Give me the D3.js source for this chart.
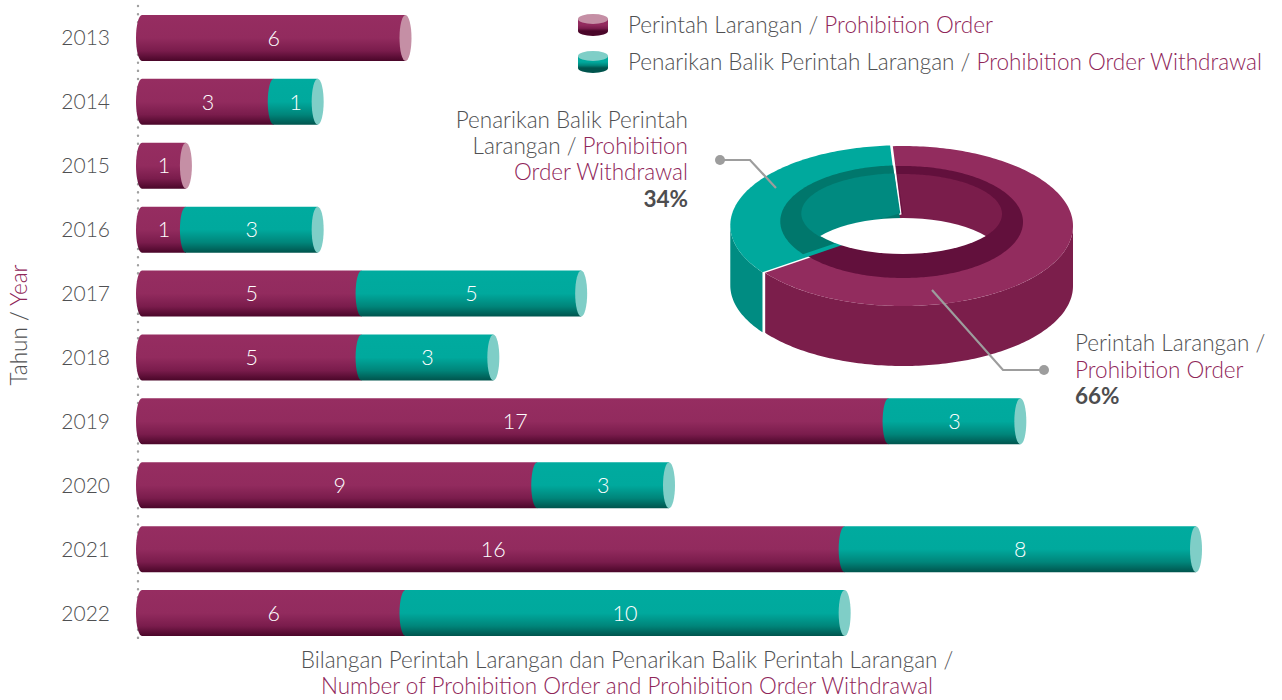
<!DOCTYPE html>
<html>
<head>
<meta charset="utf-8">
<script src="https://cdn.jsdelivr.net/npm/d3@7"></script>
<style>
  body { margin: 0; background: #fff; }
  svg { display: block; font-family: Lato, "Open Sans", sans-serif; font-weight: 300; }
</style>
</head>
<body>
<svg id="chart" width="1282" height="700"></svg>
<script>
// data
var years = ["2013", "2014", "2015", "2016", "2017", "2018", "2019", "2020", "2021", "2022"];
var prohibition = [6, 3, 1, 1, 5, 5, 17, 9, 16, 6];
var withdrawal = [0, 1, 0, 3, 5, 3, 3, 3, 8, 10];
var seriesKeys = ["prohibition", "withdrawal"];
var donutValues = [66, 34];
var donutShare = ["66%", "34%"];

var GRAY = "#4f5052";
var PURPLE_TXT = "#8f2659";
var FS = 22.5;

var svg = d3.select("#chart");
var defs = svg.append("defs");

var rows = years.map(function(y, i) {
    return { year: y, prohibition: prohibition[i], withdrawal: withdrawal[i] };
});

var x = d3.scaleLinear().domain([0, 24]).range([142, 1196]);
var y = d3.scaleBand().domain(years).range([-3, 654]).padding(0.28);
var bh = y.bandwidth();
var rx = 6;

var colors = {
    prohibition: { stops: ["#962d61", "#922b5e", "#7a1c4c", "#4a0629"], cap: "#c58fa5" },
    withdrawal: { stops: ["#00ab9f", "#00a99d", "#00857a", "#00544d"], cap: "#7fcec7" }
};

seriesKeys.forEach(function(k) {
    var g = defs.append("linearGradient").attr("id", "grad-" + k)
        .attr("x1", 0).attr("y1", 0).attr("x2", 0).attr("y2", 1);
    [0, 0.5, 0.78, 1].forEach(function(o, i) {
        g.append("stop").attr("offset", o).attr("stop-color", colors[k].stops[i]);
    });
});

// dotted axis line
svg.append("line")
    .attr("x1", 138).attr("x2", 138).attr("y1", 6).attr("y2", 642)
    .attr("stroke", "#a0a0a0").attr("stroke-width", 2.4)
    .attr("stroke-linecap", "round").attr("stroke-dasharray", "0.1 8");

var stack = d3.stack().keys(seriesKeys)(rows);

function segPath(x0, x1, top) {
    var bot = top + bh;
    return "M" + x0 + "," + top + "L" + x1 + "," + top + "L" + x1 + "," + bot +
        "L" + x0 + "," + bot + "A" + rx + "," + (bh / 2) + " 0 0 1 " + x0 + "," + top + "Z";
}

var gBars = svg.append("g");
stack.forEach(function(s) {
    s.forEach(function(d) {
        if (d[1] - d[0] <= 0) return;
        var yy = y(d.data.year);
        gBars.append("path")
            .attr("d", segPath(x(d[0]), x(d[1]), yy))
            .attr("fill", "url(#grad-" + s.key + ")");
    });
});

// end caps
rows.forEach(function(r) {
    var total = r.prohibition + r.withdrawal;
    var lastKey = r.withdrawal > 0 ? "withdrawal" : "prohibition";
    gBars.append("ellipse")
        .attr("cx", x(total)).attr("cy", y(r.year) + bh / 2)
        .attr("rx", rx).attr("ry", bh / 2)
        .attr("fill", colors[lastKey].cap);
});

// value labels
stack.forEach(function(s) {
    s.forEach(function(d) {
        var v = d[1] - d[0];
        if (v <= 0) return;
        gBars.append("text")
            .attr("x", (x(d[0]) + x(d[1])) / 2)
            .attr("y", y(d.data.year) + bh / 2)
            .attr("dy", "0.36em")
            .attr("text-anchor", "middle")
            .attr("fill", "#fff").attr("font-size", 21.5)
            .text(v);
    });
});

// year labels
svg.append("g").selectAll("text").data(years).join("text")
    .attr("x", 110).attr("y", function(d) { return y(d) + bh / 2; })
    .attr("dy", "0.36em").attr("text-anchor", "end")
    .attr("fill", GRAY).attr("font-size", 21)
    .text(function(d) { return d; });

// y title
var yt = svg.append("text")
    .attr("transform", "translate(27,325) rotate(-90)")
    .attr("text-anchor", "middle").attr("font-size", FS).attr("fill", GRAY);
yt.append("tspan").text("Tahun / ");
yt.append("tspan").attr("fill", PURPLE_TXT).text("Year");

// x title
svg.append("text").attr("x", 627).attr("y", 668).attr("text-anchor", "middle")
    .attr("font-size", FS).attr("fill", GRAY)
    .text("Bilangan Perintah Larangan dan Penarikan Balik Perintah Larangan /");
svg.append("text").attr("x", 627).attr("y", 694).attr("text-anchor", "middle")
    .attr("font-size", FS).attr("fill", PURPLE_TXT)
    .text("Number of Prohibition Order and Prohibition Order Withdrawal");

// legend
var legendItems = [
    { key: "prohibition", ms: "Perintah Larangan / ", en: "Prohibition Order" },
    { key: "withdrawal", ms: "Penarikan Balik Perintah Larangan / ", en: "Prohibition Order Withdrawal" }
];
legendItems.forEach(function(it, i) {
    var cy = 25 + i * 37;
    var g = svg.append("g");
    g.append("ellipse").attr("cx", 593).attr("cy", cy + 6).attr("rx", 15).attr("ry", 5)
        .attr("fill", colors[it.key].stops[3]);
    g.append("rect").attr("x", 578).attr("y", cy - 6).attr("width", 30).attr("height", 12)
        .attr("fill", "url(#grad-" + it.key + ")");
    g.append("ellipse").attr("cx", 593).attr("cy", cy - 6).attr("rx", 15).attr("ry", 5)
        .attr("fill", colors[it.key].cap);
    var t = g.append("text").attr("x", 628).attr("y", cy + 8)
        .attr("font-size", FS).attr("fill", GRAY);
    t.append("tspan").text(it.ms);
    t.append("tspan").attr("fill", PURPLE_TXT).text(it.en);
});

// 3D donut
var cx = 903, cy = 226, orx = 170, ory = 80, depth = 60;
var e1 = { rx: 120, ry: 56, cy: 222 };
var e2 = { rx: 99, ry: 40, cy: 214 };
var donutCols = [
    { top: "#922c5e", side: "#7b1e4b", band: "#62103c", wall: "#7a1d4b" },
    { top: "#00a99d", side: "#008c82", band: "#00776c", wall: "#008a80" }
];

var pie = d3.pie().sort(null).startAngle(-0.06).endAngle(2 * Math.PI - 0.06);
var arcs = pie(donutValues);

function pt(a, erx, ery, ecy, dy) {
    return [cx + erx * Math.sin(a), ecy - ery * Math.cos(a) + (dy || 0)];
}
function arcPts(a0, a1, erx, ery, ecy, dy) {
    var n = Math.max(2, Math.ceil(Math.abs(a1 - a0) / 0.02));
    return d3.range(n + 1).map(function(i) {
        return pt(a0 + (a1 - a0) * i / n, erx, ery, ecy, dy);
    });
}
var line = d3.line();

var gDonut = svg.append("g");
arcs.forEach(function(a, i) {
    var mid = (a.startAngle + a.endAngle) / 2;
    var ex = i === 1 ? 3 : 0;
    var g = gDonut.append("g")
        .attr("transform", "translate(" + (ex * Math.sin(mid)) + "," + (-ex * Math.cos(mid) * 0.5) + ")");
    // outer front wall
    var f0 = Math.max(a.startAngle, Math.PI / 2), f1 = Math.min(a.endAngle, 3 * Math.PI / 2);
    if (f1 > f0) {
        var up = arcPts(f0, f1, orx, ory, cy, 0);
        var dn = arcPts(f1, f0, orx, ory, cy, depth);
        g.append("path").attr("d", line(up.concat(dn)) + "Z").attr("fill", donutCols[i].side);
    }
    // top face, lip band, inner wall
    [[orx, ory, cy, "top"], [e1.rx, e1.ry, e1.cy, "band"], [e2.rx, e2.ry, e2.cy, "wall"]].forEach(function(e) {
        var pts = [[cx, e[2]]].concat(arcPts(a.startAngle, a.endAngle, e[0], e[1], e[2], 0));
        g.append("path").attr("d", line(pts) + "Z").attr("fill", donutCols[i][e[3]]);
    });
});

// hole
defs.append("clipPath").attr("id", "holeClip")
    .append("ellipse").attr("cx", cx).attr("cy", e2.cy).attr("rx", e2.rx).attr("ry", e2.ry);
gDonut.append("ellipse").attr("clip-path", "url(#holeClip)")
    .attr("cx", cx).attr("cy", e2.cy + 44).attr("rx", e2.rx).attr("ry", e2.ry)
    .attr("fill", "#fff");

// donut labels and leaders
var leader = svg.append("g").attr("stroke", "#9d9d9d").attr("stroke-width", 2.2).attr("fill", "none");
leader.append("polyline").attr("points", "932,290 1003,370 1044,370");
leader.append("polyline").attr("points", "720,160 750,160 776,188");
svg.append("circle").attr("cx", 1044).attr("cy", 370).attr("r", 5).attr("fill", "#9d9d9d");
svg.append("circle").attr("cx", 720).attr("cy", 160).attr("r", 5).attr("fill", "#9d9d9d");

var lt = svg.append("g").attr("font-size", FS).attr("text-anchor", "end");
lt.append("text").attr("x", 688).attr("y", 128).attr("fill", GRAY).text("Penarikan Balik Perintah");
var l2 = lt.append("text").attr("x", 688).attr("y", 154).attr("fill", GRAY);
l2.append("tspan").text("Larangan / ");
l2.append("tspan").attr("fill", PURPLE_TXT).text("Prohibition");
lt.append("text").attr("x", 688).attr("y", 180).attr("fill", PURPLE_TXT).text("Order Withdrawal");
lt.append("text").attr("x", 688).attr("y", 207).attr("fill", "#4d4d4f").attr("font-weight", "bold").text(donutShare[1]);

var rt = svg.append("g").attr("font-size", FS);
rt.append("text").attr("x", 1075).attr("y", 351).attr("fill", GRAY).text("Perintah Larangan /");
rt.append("text").attr("x", 1075).attr("y", 378).attr("fill", PURPLE_TXT).text("Prohibition Order");
rt.append("text").attr("x", 1075).attr("y", 404).attr("fill", "#4d4d4f").attr("font-weight", "bold").text(donutShare[0]);
</script>
</body>
</html>
